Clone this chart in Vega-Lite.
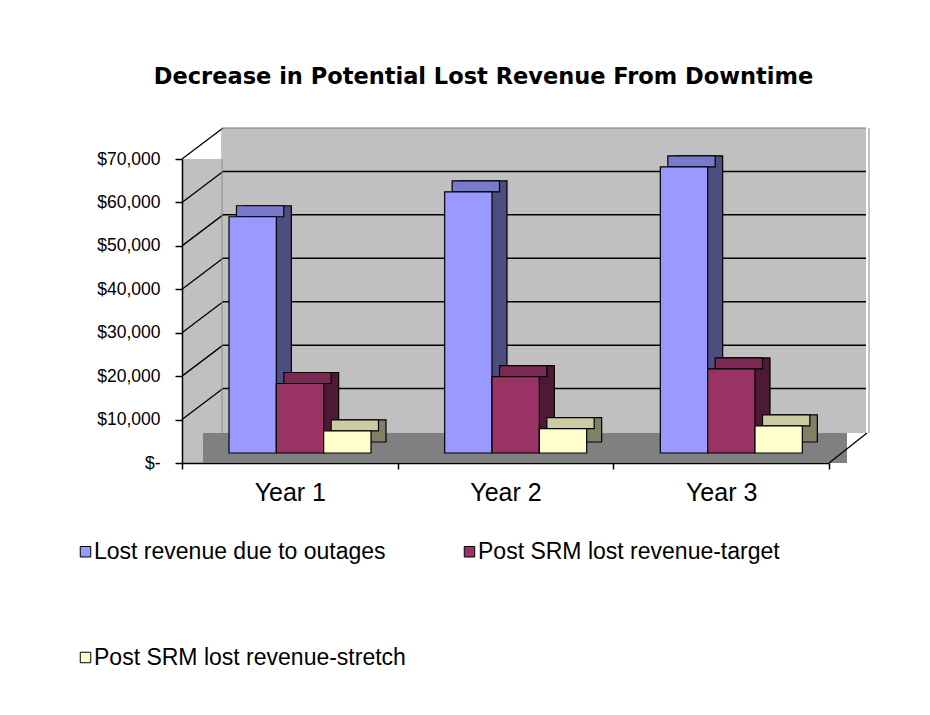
{
  "$schema": "https://vega.github.io/schema/vega-lite/v6.json",
  "width": 647,
  "height": 304,
  "autosize": {"type": "none"},
  "padding": {"left": 182, "top": 159, "right": 101, "bottom": 252},
  "background": "white",
  "title": {
    "text": "Decrease in Potential Lost Revenue From Downtime",
    "font": "DejaVu Sans",
    "fontSize": 22.5,
    "fontWeight": "bold",
    "color": "black",
    "anchor": "middle",
    "frame": "group",
    "baseline": "alphabetic",
    "dx": -22,
    "offset": 21
  },
  "config": {
    "view": {"fill": "#c0c0c0", "stroke": null},
    "axisY": {
      "title": null,
      "values": [0, 10000, 20000, 30000, 40000, 50000, 60000, 70000],
      "labelExpr": "datum.value == 0 ? '$-' : format(datum.value, '$,')",
      "labelFont": "Liberation Sans",
      "labelFontSize": 17.5,
      "labelColor": "black",
      "labelPadding": 15,
      "domainColor": "black",
      "domainWidth": 1.5,
      "tickColor": "black",
      "tickSize": 7,
      "tickWidth": 1.5,
      "grid": false,
      "zindex": 1
    }
  },
  "datasets": {
    "revenue": [
      {"year": "Year 1", "series": "Lost revenue due to outages", "value": 54400},
      {"year": "Year 1", "series": "Post SRM lost revenue-target", "value": 16000},
      {"year": "Year 1", "series": "Post SRM lost revenue-stretch", "value": 5100},
      {"year": "Year 2", "series": "Lost revenue due to outages", "value": 60150},
      {"year": "Year 2", "series": "Post SRM lost revenue-target", "value": 17600},
      {"year": "Year 2", "series": "Post SRM lost revenue-stretch", "value": 5600},
      {"year": "Year 3", "series": "Lost revenue due to outages", "value": 65900},
      {"year": "Year 3", "series": "Post SRM lost revenue-target", "value": 19350},
      {"year": "Year 3", "series": "Post SRM lost revenue-stretch", "value": 6250}
    ],
    "grid": [
      {"v": 0}, {"v": 10000}, {"v": 20000}, {"v": 30000},
      {"v": 40000}, {"v": 50000}, {"v": 60000}, {"v": 70000}
    ]
  },
  "resolve": {"scale": {"x": "independent"}},
  "layer": [
    {
      "data": {"name": "grid"},
      "layer": [
        {
          "data": {"values": [{}]},
          "mark": {"type": "rect", "fill": "#c0c0c0", "xOffset": 41, "x2Offset": 37, "yOffset": -30, "y2Offset": -31},
          "encoding": {
            "x": {"datum": 0, "type": "quantitative", "scale": {"domain": [0, 3], "nice": false, "zero": false}, "axis": null},
            "x2": {"datum": 3},
            "y": {"datum": 0, "type": "quantitative", "title": null},
            "y2": {"datum": 70000}
          }
        },
        {
          "data": {"values": [{}]},
          "mark": {"type": "rect", "fill": "#808080", "xOffset": 21, "x2Offset": 18, "y2Offset": -30},
          "encoding": {
            "x": {"datum": 0, "type": "quantitative", "axis": null},
            "x2": {"datum": 3},
            "y": {"datum": 0, "type": "quantitative", "title": null},
            "y2": {"datum": 0}
          }
        },
        {
          "transform": [{"filter": "datum.v > 0"}],
          "mark": {"type": "rule", "color": "black", "strokeWidth": 1.3, "x2Offset": 41, "y2Offset": -31},
          "encoding": {
            "x": {"datum": 0, "type": "quantitative", "axis": null},
            "x2": {"datum": 0},
            "y": {"field": "v", "type": "quantitative", "title": null},
            "y2": {"field": "v"}
          }
        },
        {
          "transform": [{"filter": "datum.v > 0 && datum.v < 70000"}],
          "mark": {"type": "rule", "color": "black", "strokeWidth": 1.5, "xOffset": 41, "x2Offset": 37, "yOffset": -31},
          "encoding": {
            "x": {"datum": 0, "type": "quantitative", "axis": null},
            "x2": {"datum": 3},
            "y": {"field": "v", "type": "quantitative", "title": null}
          }
        },
        {
          "data": {"values": [{}]},
          "mark": {"type": "rule", "color": "#7a7a7a", "strokeWidth": 1, "xOffset": 41, "x2Offset": 37, "yOffset": -31},
          "encoding": {
            "x": {"datum": 0, "type": "quantitative", "axis": null},
            "x2": {"datum": 3},
            "y": {"datum": 70000, "type": "quantitative", "title": null}
          }
        },
        {
          "data": {"values": [{"edge": 0}, {"edge": 3}]},
          "mark": {"type": "rule", "color": "#8a8a8a", "strokeWidth": 1, "xOffset": 40, "yOffset": -30, "y2Offset": -31},
          "encoding": {
            "x": {"field": "edge", "type": "quantitative", "axis": null},
            "y": {"datum": 0, "type": "quantitative", "title": null},
            "y2": {"datum": 70000}
          }
        },
        {
          "data": {"values": [{}]},
          "mark": {"type": "rule", "color": "black", "strokeWidth": 1.3, "x2Offset": 38, "y2Offset": -30},
          "encoding": {
            "x": {"datum": 3, "type": "quantitative", "axis": null},
            "x2": {"datum": 3},
            "y": {"datum": 0, "type": "quantitative", "title": null},
            "y2": {"datum": 0}
          }
        }
      ]
    },
    {
      "data": {"name": "revenue"},
      "resolve": {"scale": {"xOffset": "independent", "color": "independent"}},
      "encoding": {
        "x": {
          "field": "year",
          "type": "nominal",
          "scale": {"paddingInner": 0, "paddingOuter": 0},
          "axis": {
            "title": null,
            "labelFont": "Liberation Sans",
            "labelFontSize": 25,
            "labelColor": "black",
            "labelPadding": 11,
            "labelAngle": 0,
            "domainColor": "black",
            "domainWidth": 1.5,
            "tickColor": "black",
            "tickSize": 6,
            "tickWidth": 1.5,
            "tickBand": "extent",
            "grid": false
          }
        }
      },
      "layer": [
        {
          "mark": {"type": "bar", "yOffset": -21, "y2Offset": -21, "stroke": "black", "strokeWidth": 1.2},
          "encoding": {
            "xOffset": {
              "field": "series",
              "type": "nominal",
              "sort": ["Lost revenue due to outages", "Post SRM lost revenue-target", "Post SRM lost revenue-stretch"],
              "scale": {"range": [62, 204], "paddingInner": 0, "paddingOuter": 0}
            },
            "y": {"field": "value", "type": "quantitative", "title": null},
            "color": {
              "field": "series",
              "type": "nominal",
              "sort": ["Lost revenue due to outages", "Post SRM lost revenue-target", "Post SRM lost revenue-stretch"],
              "scale": {"range": ["#4d4d80", "#4d1a33", "#808066"]},
              "legend": null
            }
          }
        },
        {
          "mark": {"type": "bar", "yOffset": -21, "y2Offset": -10, "stroke": "black", "strokeWidth": 1.2},
          "encoding": {
            "xOffset": {
              "field": "series",
              "type": "nominal",
              "sort": ["Lost revenue due to outages", "Post SRM lost revenue-target", "Post SRM lost revenue-stretch"],
              "scale": {"range": [54.5, 196.5], "paddingInner": 0, "paddingOuter": 0}
            },
            "y": {"field": "value", "type": "quantitative", "title": null},
            "y2": {"field": "value"},
            "color": {
              "field": "series",
              "type": "nominal",
              "sort": ["Lost revenue due to outages", "Post SRM lost revenue-target", "Post SRM lost revenue-stretch"],
              "scale": {"range": ["#7a7acc", "#7a2952", "#cccca3"]},
              "legend": null
            }
          }
        },
        {
          "mark": {"type": "bar", "yOffset": -10, "y2Offset": -10, "stroke": "black", "strokeWidth": 1.2},
          "encoding": {
            "xOffset": {
              "field": "series",
              "type": "nominal",
              "sort": ["Lost revenue due to outages", "Post SRM lost revenue-target", "Post SRM lost revenue-stretch"],
              "scale": {"range": [47, 189], "paddingInner": 0, "paddingOuter": 0}
            },
            "y": {
              "field": "value",
              "type": "quantitative",
              "title": null,
              "scale": {"domain": [0, 70000], "nice": false}
            },
            "color": {
              "field": "series",
              "type": "nominal",
              "sort": ["Lost revenue due to outages", "Post SRM lost revenue-target", "Post SRM lost revenue-stretch"],
              "scale": {"range": ["#9999ff", "#993366", "#ffffcc"]},
              "legend": {
                "orient": "none",
                "legendX": -108,
                "legendY": 381,
                "direction": "horizontal",
                "columns": 2,
                "title": null,
                "symbolType": "square",
                "symbolSize": 110,
                "symbolStrokeColor": "black",
                "symbolStrokeWidth": 1,
                "symbolOpacity": 1,
                "labelFont": "Liberation Sans",
                "labelFontSize": 23,
                "labelColor": "black",
                "labelOffset": -3,
                "labelLimit": 500,
                "columnPadding": 52,
                "rowPadding": 82
              }
            }
          }
        }
      ]
    }
  ]
}
